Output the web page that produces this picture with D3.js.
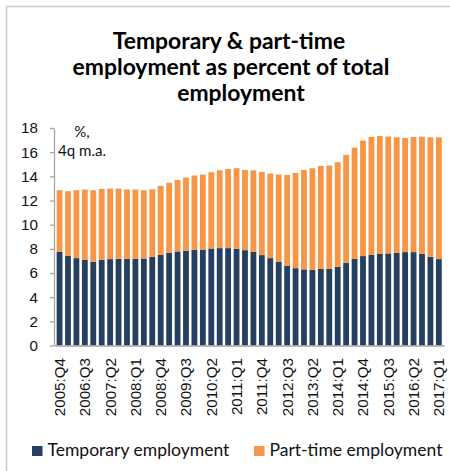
<!DOCTYPE html>
<html>
<head>
<meta charset="utf-8">
<script src="https://cdn.jsdelivr.net/npm/d3@7"></script>
<style>
  html, body { margin: 0; padding: 0; background: #fff; }
  svg { display: block; font-family: Lato, "Open Sans", "DejaVu Sans", sans-serif; }
</style>
</head>
<body>
<svg id="chart" width="450" height="471"></svg>
<script>
// Quarterly categories, 2005:Q4 to 2017:Q1
const quarters = [
  "2005:Q4",
  "2006:Q1", "2006:Q2", "2006:Q3", "2006:Q4",
  "2007:Q1", "2007:Q2", "2007:Q3", "2007:Q4",
  "2008:Q1", "2008:Q2", "2008:Q3", "2008:Q4",
  "2009:Q1", "2009:Q2", "2009:Q3", "2009:Q4",
  "2010:Q1", "2010:Q2", "2010:Q3", "2010:Q4",
  "2011:Q1", "2011:Q2", "2011:Q3", "2011:Q4",
  "2012:Q1", "2012:Q2", "2012:Q3", "2012:Q4",
  "2013:Q1", "2013:Q2", "2013:Q3", "2013:Q4",
  "2014:Q1", "2014:Q2", "2014:Q3", "2014:Q4",
  "2015:Q1", "2015:Q2", "2015:Q3", "2015:Q4",
  "2016:Q1", "2016:Q2", "2016:Q3", "2016:Q4",
  "2017:Q1"
];

// Temporary employment, % of total employment (4q moving average)
const temporary = [
  7.74,
  7.42, 7.23, 7.10, 6.93,
  7.10, 7.15, 7.17, 7.17,
  7.17, 7.20, 7.34, 7.50,
  7.67, 7.78, 7.84, 7.92,
  7.92, 8.03, 8.06, 8.06,
  8.00, 7.89, 7.75, 7.48,
  7.23, 6.93, 6.60, 6.40,
  6.30, 6.26, 6.33, 6.36,
  6.51, 6.84, 7.17, 7.40,
  7.50, 7.59, 7.62, 7.67,
  7.73, 7.73, 7.59, 7.34,
  7.15
];

// Part-time employment, % of total employment (4q moving average)
const partTime = [
  5.11,
  5.35, 5.62, 5.81, 5.92,
  5.86, 5.84, 5.82, 5.74,
  5.74, 5.65, 5.59, 5.71,
  5.79, 5.92, 6.06, 6.15,
  6.23, 6.31, 6.44, 6.55,
  6.67, 6.64, 6.75, 6.89,
  7.00, 7.22, 7.52, 7.88,
  8.23, 8.41, 8.53, 8.53,
  8.66, 8.93, 9.21, 9.56,
  9.76, 9.75, 9.67, 9.56,
  9.44, 9.53, 9.70, 9.89,
  10.08
];

// Category labels shown on the x axis (every third quarter)
const tickLabels = [
  "2005:Q4", "2006:Q3", "2007:Q2", "2008:Q1", "2008:Q4", "2009:Q3",
  "2010:Q2", "2011:Q1", "2011:Q4", "2012:Q3", "2013:Q2", "2014:Q1",
  "2014:Q4", "2015:Q3", "2016:Q2", "2017:Q1"
];

const yTicks = [0, 2, 4, 6, 8, 10, 12, 14, 16, 18];

const titleLines = ["Temporary & part-time", "employment as percent of total", "employment"];
const unitLines = ["%,", "4q m.a."];
const seriesKeys = ["temporary", "partTime"];
const seriesNames = ["Temporary employment", "Part-time employment"];
const seriesColors = ["#253F60", "#F79646"];

const svg = d3.select("#chart");

// Pick a font size so that a sample string spans the given width
function fitFont(sample, weight, target) {
  const t = svg.append("text")
    .attr("font-size", 100)
    .attr("font-weight", weight)
    .text(sample);
  const w = t.node().getComputedTextLength();
  t.remove();
  return 100 * target / w;
}

const titleSize = fitFont(titleLines[1], "bold", 317);
const axisSize = fitFont("2005:Q4", "normal", 60);
const legendSize = fitFont(seriesNames[0], "normal", 182);
const unitSize = fitFont(unitLines[1], "normal", 48);

// Chart area frame
svg.append("path")
  .attr("d", "M6.5,480 V6.5 H460")
  .attr("fill", "none")
  .attr("stroke", "#c9c9c9")
  .attr("stroke-width", 1.5);

// Title
const titleX = [229, 231, 241];
const titleY = [48.5, 74.5, 100.5];
svg.append("g")
  .selectAll("text")
  .data(titleLines)
  .join("text")
  .attr("x", (d, i) => titleX[i])
  .attr("y", (d, i) => titleY[i])
  .attr("text-anchor", "middle")
  .attr("font-weight", "bold")
  .attr("font-size", titleSize)
  .attr("fill", "#000")
  .text(d => d);

// Scales
const x = d3.scaleBand()
  .domain(quarters)
  .range([54.2, 444.2])
  .paddingInner(0.31)
  .paddingOuter(0.29);

const y = d3.scaleLinear()
  .domain([0, 18])
  .range([345.5, 128]);

// Stacked series
const rows = quarters.map((q, i) => ({ q, temporary: temporary[i], partTime: partTime[i] }));
const stacked = d3.stack().keys(seriesKeys)(rows);

svg.append("g")
  .selectAll("g")
  .data(stacked)
  .join("g")
  .attr("fill", (d, i) => seriesColors[i])
  .selectAll("rect")
  .data(d => d)
  .join("rect")
  .attr("x", d => x(d.data.q))
  .attr("width", x.bandwidth())
  .attr("y", d => y(d[1]))
  .attr("height", d => y(d[0]) - y(d[1]));

// Y axis
const yAxis = svg.append("g")
  .attr("transform", "translate(54,0)")
  .call(d3.axisLeft(y).tickValues(yTicks).tickSize(4).tickSizeOuter(0).tickPadding(12));
yAxis.select(".domain").attr("stroke", "#a6a6a6").attr("stroke-width", 1.3);
yAxis.selectAll(".tick line").attr("stroke", "#a6a6a6").attr("stroke-width", 1.3);
yAxis.selectAll(".tick text")
  .attr("font-size", axisSize)
  .attr("font-family", null)
  .attr("fill", "#111");

// X axis
const xAxis = svg.append("g")
  .attr("transform", `translate(0,${y(0)})`)
  .call(d3.axisBottom(x).tickValues(tickLabels).tickSize(0).tickSizeOuter(0));
xAxis.select(".domain").attr("stroke", "#a6a6a6").attr("stroke-width", 1.6);
xAxis.selectAll(".tick text")
  .attr("font-size", axisSize)
  .attr("font-family", null)
  .attr("fill", "#111")
  .attr("text-anchor", "end")
  .attr("transform", "rotate(-90)")
  .attr("x", -12.5)
  .attr("y", 0)
  .attr("dy", "0.36em");

// Unit note inside the plot
svg.append("g")
  .selectAll("text")
  .data(unitLines)
  .join("text")
  .attr("x", 82)
  .attr("y", (d, i) => 137 + i * 19)
  .attr("text-anchor", "middle")
  .attr("font-size", unitSize)
  .attr("fill", "#111")
  .text(d => d);

// Legend
const legendX = [32, 254];
const legend = svg.append("g")
  .selectAll("g")
  .data(seriesNames)
  .join("g")
  .attr("transform", (d, i) => `translate(${legendX[i]},446)`);
legend.append("rect")
  .attr("width", 10.5)
  .attr("height", 10)
  .attr("fill", (d, i) => seriesColors[i]);
legend.append("text")
  .attr("x", 15.5)
  .attr("y", 9.5)
  .attr("font-size", legendSize)
  .attr("fill", "#111")
  .text(d => d);
</script>
</body>
</html>
